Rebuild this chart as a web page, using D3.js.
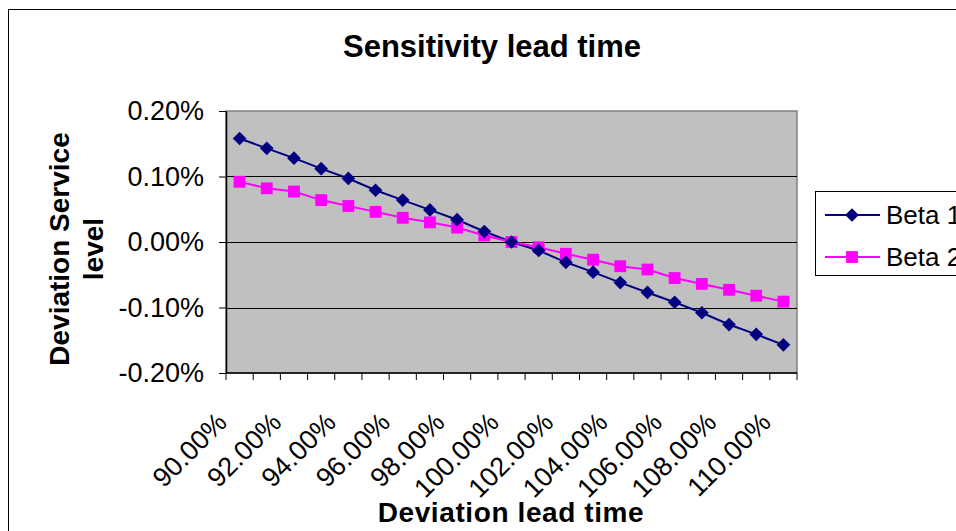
<!DOCTYPE html>
<html>
<head>
<meta charset="utf-8">
<script src="https://cdn.jsdelivr.net/npm/d3@7/dist/d3.min.js"></script>
<style>
  html, body { margin: 0; padding: 0; background: #fff; }
  svg { display: block; font-family: "Liberation Sans", Arial, sans-serif; }
</style>
</head>
<body>
<svg id="chart" width="956" height="531"></svg>
<script>
// Lead time deviation (%) for each category on the x axis
const leadTime = [90, 91, 92, 93, 94, 95, 96, 97, 98, 99, 100,
                  101, 102, 103, 104, 105, 106, 107, 108, 109, 110];
// Service level deviation (in %) for each beta
const beta1 = [0.158, 0.143, 0.128, 0.112, 0.097, 0.079, 0.064, 0.049, 0.034, 0.016, 0,
               -0.013, -0.031, -0.046, -0.062, -0.077, -0.092, -0.108, -0.126, -0.141, -0.157];
const beta2 = [0.092, 0.082, 0.077, 0.064, 0.055, 0.046, 0.037, 0.030, 0.022, 0.010, 0,
               -0.008, -0.018, -0.027, -0.037, -0.042, -0.055, -0.064, -0.073, -0.082, -0.091];
const yTicks = [-0.2, -0.1, 0, 0.1, 0.2];
const xLabels = [90, 92, 94, 96, 98, 100, 102, 104, 106, 108, 110];
const seriesNames = ["Beta 1", "Beta 2"];

const svg = d3.select("#chart");
const plot = { left: 226, right: 797, top: 111, bottom: 373 };

// outer chart frame (extends past the right and bottom edges)
svg.append("rect")
  .attr("x", 8.5).attr("y", 9.5)
  .attr("width", 1000).attr("height", 600)
  .attr("fill", "#fff").attr("stroke", "#000").attr("stroke-width", 1);

const x = d3.scaleBand().domain(leadTime).range([plot.left, plot.right]).paddingInner(0).paddingOuter(0);
const y = d3.scaleLinear().domain([-0.2, 0.2]).range([plot.bottom, plot.top]);
const pct = d => d.toFixed(2) + "%";

// plot background
svg.append("rect")
  .attr("x", plot.left).attr("y", plot.top)
  .attr("width", plot.right - plot.left).attr("height", plot.bottom - plot.top)
  .attr("fill", "#c0c0c0").attr("stroke", "#808080").attr("stroke-width", 1.5);

// horizontal gridlines
svg.append("g").selectAll("line")
  .data(yTicks.filter(t => t > -0.2 && t < 0.2))
  .join("line")
  .attr("x1", plot.left).attr("x2", plot.right)
  .attr("y1", d => Math.round(y(d)) + 0.5).attr("y2", d => Math.round(y(d)) + 0.5)
  .attr("stroke", "#000").attr("stroke-width", 1);

// y axis
const yAxis = svg.append("g")
  .attr("transform", `translate(${plot.left},0)`)
  .call(d3.axisLeft(y).tickValues(yTicks).tickFormat(pct).tickSize(7).tickSizeOuter(0).tickPadding(15));
yAxis.select(".domain").attr("stroke", "#000").attr("stroke-width", 1.5);
yAxis.selectAll(".tick line").attr("stroke", "#000");
yAxis.selectAll(".tick text")
  .attr("font-size", 27).attr("fill", "#000")
  .attr("font-family", "Liberation Sans, Arial, sans-serif");

// x axis line and tick marks between categories
const xg = svg.append("g");
xg.append("line")
  .attr("x1", plot.left).attr("x2", plot.right)
  .attr("y1", plot.bottom).attr("y2", plot.bottom)
  .attr("stroke", "#000").attr("stroke-width", 1.5);
const edges = leadTime.map(d => x(d)).concat([x(leadTime[leadTime.length - 1]) + x.bandwidth()]);
xg.selectAll("line.tick")
  .data(edges)
  .join("line").attr("class", "tick")
  .attr("x1", d => d).attr("x2", d => d)
  .attr("y1", plot.bottom).attr("y2", plot.bottom + 7)
  .attr("stroke", "#000").attr("stroke-width", 1);

// rotated category labels
xg.selectAll("text")
  .data(xLabels)
  .join("text")
  .attr("transform", d => `translate(${x(d) + x.bandwidth() / 2 - 11},${plot.bottom + 51}) rotate(-45)`)
  .attr("text-anchor", "end")
  .attr("font-size", 27)
  .text(pct);

// series
const cx = d => x(d) + x.bandwidth() / 2;
const lineGen = vals => d3.line().x((d, i) => cx(leadTime[i])).y(d => y(d))(vals);

svg.append("path").attr("d", lineGen(beta1))
  .attr("fill", "none").attr("stroke", "#000080").attr("stroke-width", 2);
svg.append("path").attr("d", lineGen(beta2))
  .attr("fill", "none").attr("stroke", "#ff00ff").attr("stroke-width", 2);

const diamond = d3.symbol().type(d3.symbolDiamond2).size(120);
const square = d3.symbol().type(d3.symbolSquare).size(140);

svg.append("g").selectAll("path")
  .data(beta2)
  .join("path")
  .attr("d", square())
  .attr("transform", (d, i) => `translate(${cx(leadTime[i])},${y(d)})`)
  .attr("fill", "#ff00ff");

svg.append("g").selectAll("path")
  .data(beta1)
  .join("path")
  .attr("d", diamond())
  .attr("transform", (d, i) => `translate(${cx(leadTime[i])},${y(d)})`)
  .attr("fill", "#000080");

// title
svg.append("text")
  .attr("x", 492).attr("y", 57)
  .attr("text-anchor", "middle")
  .attr("font-size", 31).attr("font-weight", "bold")
  .text("Sensitivity lead time");

// axis titles
svg.append("text")
  .attr("x", 511).attr("y", 522)
  .attr("text-anchor", "middle")
  .attr("font-size", 28).attr("font-weight", "bold")
  .attr("letter-spacing", 0.6)
  .text("Deviation lead time");

const yTitle = svg.append("text")
  .attr("transform", "translate(0,249) rotate(-90)")
  .attr("text-anchor", "middle")
  .attr("font-size", 28).attr("font-weight", "bold");
yTitle.append("tspan").attr("x", 0).attr("y", 69).text("Deviation Service");
yTitle.append("tspan").attr("x", 0).attr("y", 103).text("level");

// legend (box runs off the right edge)
const legend = svg.append("g");
legend.append("rect")
  .attr("x", 815.5).attr("y", 191.5)
  .attr("width", 200).attr("height", 84)
  .attr("fill", "#fff").attr("stroke", "#000").attr("stroke-width", 1);
const legendRows = [
  { name: seriesNames[0], color: "#000080", sym: diamond, y: 215 },
  { name: seriesNames[1], color: "#ff00ff", sym: square, y: 257 }
];
legendRows.forEach(r => {
  legend.append("line")
    .attr("x1", 825).attr("x2", 880).attr("y1", r.y).attr("y2", r.y)
    .attr("stroke", r.color).attr("stroke-width", 2);
  legend.append("path")
    .attr("d", r.sym())
    .attr("transform", `translate(852,${r.y})`)
    .attr("fill", r.color);
  legend.append("text")
    .attr("x", 886).attr("y", r.y + 9)
    .attr("font-size", 26)
    .text(r.name);
});
</script>
</body>
</html>
